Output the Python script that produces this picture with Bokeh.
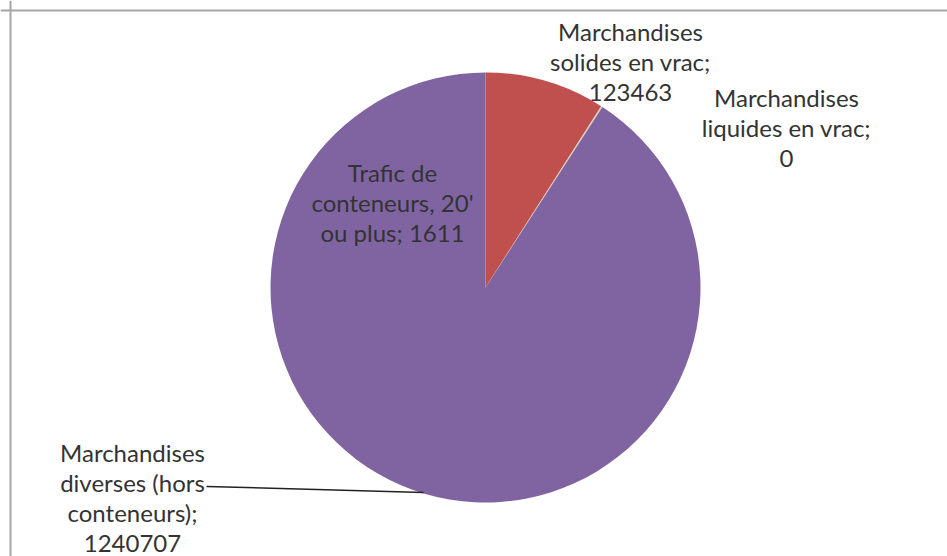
import math
import textwrap
from bokeh.plotting import figure
from bokeh.models import Range1d, Span, ColumnDataSource
from bokeh.core.properties import value
from bokeh.embed import file_html
from bokeh.resources import INLINE

# ---- data ----
categories = [
    "Marchandises solides en vrac",
    "Marchandises liquides en vrac",
    "Trafic de conteneurs, 20' ou plus",
    "Marchandises diverses (hors conteneurs)",
]
values = [123463, 0, 1611, 1240707]
colors = ["#C0504D", "#4F81BD", "#D8C8B2", "#8064A2"]

# ---- layout ----
W, H = 947, 556
cx, cy, R = 485, H - 287, 215
# label block centres (pixel coords from top-left)
label_pos = [(630, 61), (786, 127), (392, 202), (132, 497)]

total = float(sum(values))
starts, ends, cols = [], [], []
cum = 0.0
for v, c in zip(values, colors):
    a0 = math.pi / 2 - 2 * math.pi * cum / total
    cum += v
    a1 = math.pi / 2 - 2 * math.pi * cum / total
    if v > 0:
        starts.append(a0)
        ends.append(a1)
        cols.append(c)

src = ColumnDataSource(dict(start=starts, end=ends, color=cols))

p = figure(width=W, height=H, output_backend="svg", toolbar_location=None,
           x_range=Range1d(0, W), y_range=Range1d(0, H), min_border=0,
           background_fill_color="white", border_fill_color="white")
p.axis.visible = False
p.grid.visible = False
p.outline_line_color = None

p.wedge(x=cx, y=cy, radius=R, start_angle="start", end_angle="end",
        direction="clock", fill_color="color", line_color=None, source=src)

# chart frame (top and left edges visible)
p.add_layout(Span(location=H - 10, dimension="width", line_color="#A6A6A6", line_width=2))
p.add_layout(Span(location=10, dimension="height", line_color="#A6A6A6", line_width=2))

labels = [textwrap.fill(f"{c}; {v}", width=17) for c, v in zip(categories, values)]
lsrc = ColumnDataSource(dict(
    x=[lp[0] for lp in label_pos],
    y=[H - lp[1] for lp in label_pos],
    text=labels,
))
p.text(x="x", y="y", text="text", source=lsrc, text_align="center",
       text_baseline="middle", text_font=value("Lato"), text_font_size="24px",
       text_color="#333333", text_line_height=1.04)

# leader line for "Marchandises diverses"
p.line(x=[206, 423], y=[H - 486, H - 492], line_color="#222222", line_width=1.5)

open("out.html", "w").write(file_html(p, INLINE))
